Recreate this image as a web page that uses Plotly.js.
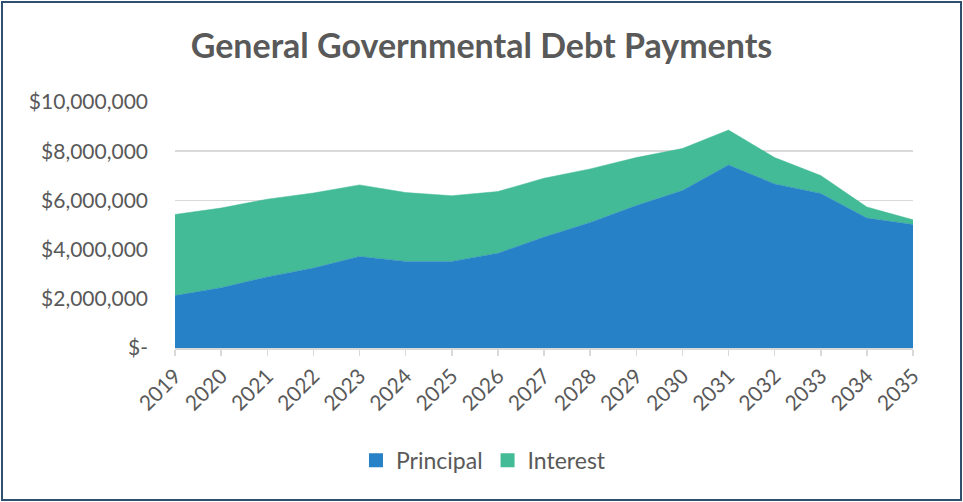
<!DOCTYPE html>
<html><head><meta charset="utf-8">
<script src="https://cdn.plot.ly/plotly-3.0.1.min.js"></script>
<style>
html,body{margin:0;padding:0;background:#fff;}
#wrap{position:relative;width:963px;height:502px;}
#chart{width:963px;height:502px;}
#frame{position:absolute;left:1px;top:1px;width:957px;height:496px;border:2px solid #2E4F6E;pointer-events:none;}
</style></head>
<body>
<div id="wrap"><div id="chart"></div><div id="frame"></div></div>
<script>
const years = ['2019','2020','2021','2022','2023','2024','2025','2026','2027','2028','2029','2030','2031','2032','2033','2034','2035'];
const principal = [2130000,2450000,2890000,3250000,3720000,3520000,3520000,3850000,4510000,5100000,5790000,6400000,7440000,6670000,6280000,5280000,5020000];
const interest = [3300000,3240000,3160000,3050000,2910000,2800000,2670000,2510000,2390000,2180000,1950000,1710000,1420000,1070000,730000,450000,190000];
const seriesNames = ['Principal','Interest'];
const seriesColors = ['#2781C6','#43BB96'];
const yTickVals = [0,2000000,4000000,6000000,8000000,10000000];
const yTickText = ['$-','$2,000,000','$4,000,000','$6,000,000','$8,000,000','$10,000,000'];

const font = 'Lato, "Open Sans", sans-serif';
const values = [principal, interest];
const traces = values.map((v, i) => ({
  x: years, y: v, name: seriesNames[i], type: 'scatter', mode: 'lines', stackgroup: 'one',
  line: {width: 0.5, color: seriesColors[i]}, fillcolor: seriesColors[i], showlegend: false
}));
// legend entries (square swatches, no visible data)
seriesNames.forEach((n, i) => traces.push({
  x: [years[0]], y: [null], name: n, type: 'scatter', mode: 'markers',
  marker: {symbol: 'square', size: 14, color: seriesColors[i]}, showlegend: true
}));

const layout = {
  width: 963, height: 502,
  margin: {l: 175, r: 50, t: 102, b: 153.5},
  paper_bgcolor: '#fff', plot_bgcolor: '#fff',
  title: {text: '<b>General Governmental Debt Payments</b>', x: 0.5, xanchor: 'center', y: 0.908, yanchor: 'middle',
          font: {family: font, size: 34, color: '#595959'}},
  xaxis: {type: 'category', range: [0, 16], showgrid: false, showline: true, linecolor: '#D9D9D9', linewidth: 1.5,
          ticks: 'outside', ticklen: 6, tickcolor: '#D9D9D9', tickwidth: 1.5, tickangle: -45,
          tickfont: {family: font, size: 21, color: '#595959'}, fixedrange: true},
  yaxis: {range: [0, 10000000], tickvals: yTickVals, ticktext: yTickText, showgrid: true, gridcolor: '#D9D9D9', gridwidth: 1.5,
          zeroline: false, showline: false, ticks: '', ticklen: 0, ticklabelstandoff: 26,
          tickfont: {family: font, size: 21, color: '#595959'}, fixedrange: true},
  showlegend: true,
  legend: {orientation: 'h', x: 0.418, xanchor: 'center', y: -0.456, yanchor: 'middle',
           font: {family: font, size: 23, color: '#595959'}, traceorder: 'normal', itemwidth: 30},
  hovermode: false
};
Plotly.newPlot('chart', traces, layout, {displayModeBar: false, staticPlot: true});
</script>
</body></html>
